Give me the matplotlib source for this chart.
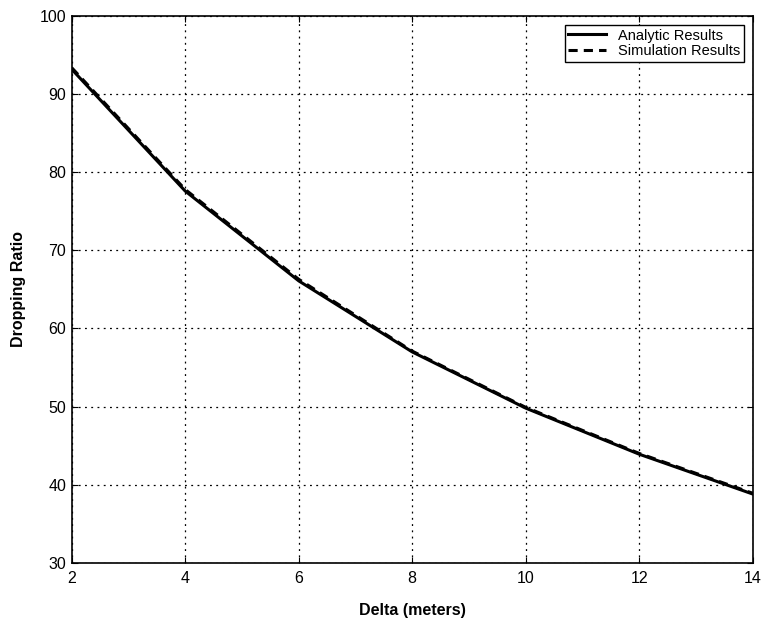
import matplotlib
matplotlib.use("Agg")
import matplotlib.pyplot as plt

delta = [2, 4, 6, 8, 10, 12, 14]
analytic = [93.2, 77.6, 66.1, 57.0, 49.8, 43.9, 38.8]
simulation = [93.4, 77.8, 66.3, 57.1, 49.9, 44.0, 38.9]
xticks = [2, 4, 6, 8, 10, 12, 14]
yticks = [30, 40, 50, 60, 70, 80, 90, 100]

plt.rcParams['font.family'] = ['Liberation Sans', 'DejaVu Sans']

fig = plt.figure(figsize=(7.63, 6.22), dpi=100)
ax = fig.add_axes([0.094, 0.0953, 0.8925, 0.8787])

ax.plot(delta, analytic, color='black', linewidth=2.2, linestyle='-', label='Analytic Results')
ax.plot(delta, simulation, color='black', linewidth=2.2, linestyle=(0, (3, 2)), label='Simulation Results')

ax.set_xlim(2, 14)
ax.set_ylim(30, 100)
ax.set_xticks(xticks)
ax.set_yticks(yticks)
ax.tick_params(direction='in', labelsize=11.5, length=4, width=0.8, top=True, right=True)
ax.tick_params(axis='x', pad=6)
ax.tick_params(axis='y', pad=4)
ax.grid(True, color='black', linestyle=(0, (1.5, 3.5)), linewidth=0.9)
for s in ax.spines.values():
    s.set_linewidth(1.2)

ax.set_xlabel('Delta (meters)', fontsize=11.5, fontweight='bold', labelpad=12)
ax.set_ylabel('Dropping Ratio', fontsize=11.5, fontweight='bold', labelpad=10)

leg = ax.legend(loc='upper right', fontsize=10.5, frameon=True, fancybox=False,
                edgecolor='black', framealpha=1, borderaxespad=0.6,
                handlelength=2.6, borderpad=0.25, labelspacing=0.1)
leg.get_frame().set_linewidth(1.0)

fig.savefig('out.png', dpi=100)
